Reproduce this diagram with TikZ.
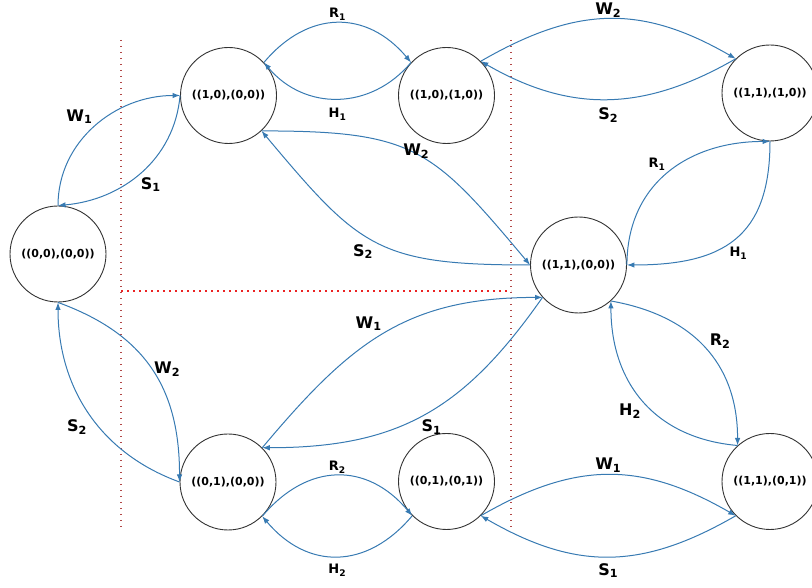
\documentclass[tikz,border=0pt]{standalone}
\usepackage{fontspec}
\setmainfont{DejaVu Sans}
\usepackage{xcolor}
\usetikzlibrary{arrows.meta}

\definecolor{trblue}{RGB}{55,122,178}
\definecolor{sepred}{RGB}{178,72,72}
\definecolor{sepbright}{RGB}{235,35,35}

\tikzset{
  state/.style={circle, draw=black!80, line width=0.9pt, minimum size=96pt, inner sep=0pt, font=\bfseries\fontsize{11}{13}\selectfont},
  trans/.style={draw=trblue, line width=1pt, -{Latex[length=7.5pt,width=5.5pt]}},
  lab/.style={font=\bfseries\fontsize{16}{19}\selectfont, inner sep=2pt},
  slab/.style={font=\bfseries\fontsize{13}{15}\selectfont, inner sep=2pt},
  sepline/.style={draw=sepred, line width=1.2pt, dash pattern=on 1.2pt off 4.8pt}
}

\begin{document}
\begin{tikzpicture}[x=1pt,y=1pt]
\useasboundingbox (0,0) rectangle (812,588);

% dotted separators
\draw[sepline] (121,548) -- (121,61);
\draw[sepline] (511,548) -- (511,60);
\draw[sepline, draw=sepbright, line width=1.1pt, dash pattern=on 2pt off 4pt] (121,297) -- (511,297);

% states
\node[state] (n00) at (58,334) {((0,0),(0,0))};
\node[state] (n10) at (228.5,492.5) {((1,0),(0,0))};
\node[state] (n1010) at (446.5,492.5) {((1,0),(1,0))};
\node[state] (n1110) at (770,495) {((1,1),(1,0))};
\node[state] (n1100) at (578.5,323) {((1,1),(0,0))};
\node[state] (n0100) at (228,106) {((0,1),(0,0))};
\node[state] (n0101) at (446.5,106.5) {((0,1),(0,1))};
\node[state] (n1101) at (770,106.5) {((1,1),(0,1))};

% transitions
\draw[trans] (n00.90) to[out=90,in=180] node[lab,above left]{W\textsubscript{1}} (n10.180);
\draw[trans] (n10.180) to[out=265,in=5] node[lab,pos=0.52,below right]{S\textsubscript{1}} (n00.90);

\draw[trans] (n10.43) to[out=50,in=130,looseness=1.2] node[slab,above]{R\textsubscript{1}} (n1010.137);
\draw[trans] (n1010.137) to[out=230,in=-50,looseness=1.1] node[slab,below=7pt]{H\textsubscript{1}} (n10.43);

\draw[trans] (n1010.45) to[out=30,in=150,looseness=1.1] node[lab,above=-1pt]{W\textsubscript{2}} (n1110.135);
\draw[trans] (n1110.135) to[out=210,in=-30,looseness=1.05] node[lab,below=6pt]{S\textsubscript{2}} (n1010.45);

\draw[trans] (n1100.0) to[out=90,in=180,looseness=1.1] node[slab,above left]{R\textsubscript{1}} (n1110.270);
\draw[trans] (n1110.270) to[out=270,in=0,looseness=1.3] node[slab,pos=0.55,below right]{H\textsubscript{1}} (n1100.0);

\draw[trans] (n10.-47) to[out=0,in=130,looseness=1.3] node[lab,pos=0.5,above=-7pt]{W\textsubscript{2}} (n1100.180);
\draw[trans] (n1100.180) to[out=180,in=-50,looseness=1.3] node[lab,below left]{S\textsubscript{2}} (n10.-47);

\draw[trans] (n00.270) to[out=-20,in=90,looseness=1.1] node[lab,right]{W\textsubscript{2}} (n0100.180);
\draw[trans] (n0100.180) to[out=160,in=270] node[lab,pos=0.42,left=10pt]{S\textsubscript{2}} (n00.270);

\draw[trans] (n0100.45) to[out=50,in=180,looseness=1.1] node[lab,above left]{W\textsubscript{1}} (n1100.222);
\draw[trans] (n1100.222) to[out=235,in=0,looseness=1.1] node[lab,pos=0.52,below right]{S\textsubscript{1}} (n0100.45);

\draw[trans] (n0100.-45) to[out=50,in=130,looseness=1.2] node[slab,above]{R\textsubscript{2}} (n0101.-135);
\draw[trans] (n0101.-135) to[out=230,in=-50,looseness=1.2] node[slab,below=5pt]{H\textsubscript{2}} (n0100.-45);

\draw[trans] (n0101.-45) to[out=30,in=150,looseness=1.1] node[lab,above]{W\textsubscript{1}} (n1101.-135);
\draw[trans] (n1101.-135) to[out=210,in=-30,looseness=1.1] node[lab,below=4pt]{S\textsubscript{1}} (n0101.-45);

\draw[trans] (n1100.-48) to[out=-10,in=90,looseness=1.1] node[lab,pos=0.52,above right]{R\textsubscript{2}} (n1101.132);
\draw[trans] (n1101.132) to[out=175,in=270,looseness=1.1] node[lab,below left]{H\textsubscript{2}} (n1100.-48);

\end{tikzpicture}
\end{document}
